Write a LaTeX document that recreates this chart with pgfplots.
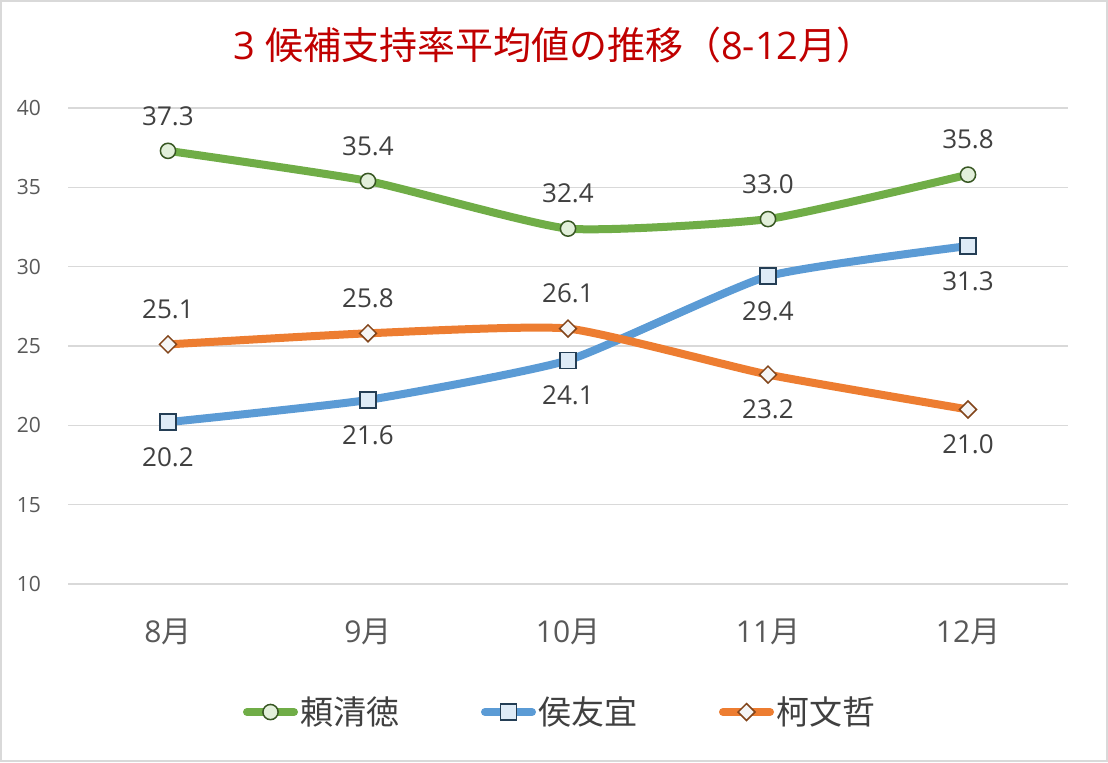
\documentclass[border=0pt]{standalone}
\usepackage{fontspec}
\setmainfont{Open Sans}
\newfontfamily\cjk{Noto Sans CJK JP}
\usepackage{pgfplots}
\usepackage{pgfplotstable}
\pgfplotsset{compat=1.18}

\definecolor{cgreen}{HTML}{70AD47}
\definecolor{cblue}{HTML}{5B9BD5}
\definecolor{corange}{HTML}{ED7D31}
\definecolor{gridgray}{HTML}{D9D9D9}
\definecolor{ticklab}{HTML}{595959}
\definecolor{lbl}{HTML}{404040}
\definecolor{titlered}{HTML}{C00000}

% pos: 1 = label above the point, -1 = below
\pgfplotstableread{
x y pos
0 37.3 1
1 35.4 1
2 32.4 1
3 33.0 1
4 35.8 1
}\lai
\pgfplotstableread{
x y pos
0 20.2 -1
1 21.6 -1
2 24.1 -1
3 29.4 -1
4 31.3 -1
}\hou
\pgfplotstableread{
x y pos
0 25.1 1
1 25.8 1
2 26.1 1
3 23.2 -1
4 21.0 -1
}\ko

\begin{document}
\begin{tikzpicture}
\useasboundingbox (0,0) rectangle (554pt,381pt);
\fill[white] (0,0) rectangle (554pt,381pt);
\draw[gridgray, line width=1pt] (0.5pt,0.5pt) rectangle (553.5pt,380.5pt);
\node[font=\fontsize{19}{21}\selectfont, text=titlered] at (277pt,358.5pt)
  {3 {\cjk 候補支持率平均値の推移（}8-12{\cjk 月）}};
\begin{axis}[
    at={(34pt,89pt)}, anchor=south west,
    scale only axis, width=500pt, height=238pt,
    xmin=-0.5, xmax=4.5, ymin=10, ymax=40,
    xtick={0,1,2,3,4},
    xticklabels={{8{\cjk 月}},{9{\cjk 月}},{10{\cjk 月}},{11{\cjk 月}},{12{\cjk 月}}},
    ytick={10,15,...,40},
    ymajorgrids,
    grid style={line width=0.75pt, gridgray},
    axis line style={draw=none},
    major tick length=0pt,
    /pgf/number format/assume math mode=true,
    xticklabel style={font=\fontsize{15}{17}\selectfont, text=ticklab, anchor=center, yshift=-24pt},
    yticklabel style={font=\fontsize{10.5}{12}\selectfont, text=ticklab, anchor=east, xshift=-10pt},
    clip=false,
    point meta=y,
    nodes near coords={\pgfmathprintnumber[fixed,fixed zerofill,precision=1]{\pgfplotspointmeta}},
    visualization depends on={\thisrow{pos}\as\lpos},
    every node near coord/.append style={font=\fontsize{13}{15}\selectfont, text=lbl, anchor=center, yshift=\lpos*17.5pt},
    legend columns=3,
    legend style={at={(0.492,-0.269)}, anchor=center, draw=none, fill=none,
        font=\fontsize{16.5}{18}\selectfont, text=lbl,
        nodes={inner sep=1pt},
        /tikz/every even column/.append style={column sep=40pt}},
    legend image code/.code={\draw[#1, line cap=round, mark repeat=2, mark phase=2] plot coordinates {(0pt,0pt)(11.75pt,0pt)(23.5pt,0pt)};},
]
\addplot[cgreen, line width=4pt, smooth, tension=0.3, mark=*, mark size=3.8pt,
    mark options={solid, fill=cgreen!20, draw=cgreen!50!black, line width=0.75pt}]
    table[x=x, y=y] {\lai};
\addlegendentry{\cjk 頼清徳}
\addplot[cblue, line width=4pt, smooth, tension=0.3, mark=square*, mark size=4pt,
    mark options={solid, fill=cblue!20, draw=cblue!40!black, line width=0.75pt}]
    table[x=x, y=y] {\hou};
\addlegendentry{\cjk 侯友宜}
\addplot[corange, line width=4pt, smooth, tension=0.3, mark=square*, mark size=3pt,
    mark options={solid, rotate=45, fill=gray!8, draw=corange!55!black, line width=0.75pt}]
    table[x=x, y=y] {\ko};
\addlegendentry{\cjk 柯文哲}
\end{axis}
\end{tikzpicture}
\end{document}
